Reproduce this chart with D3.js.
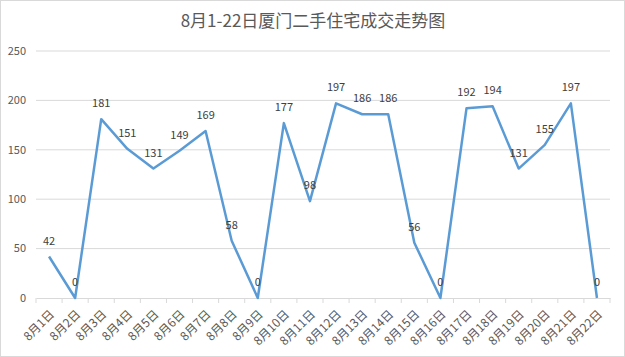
<!DOCTYPE html>
<html><head><meta charset="utf-8">
<script src="https://cdn.jsdelivr.net/npm/d3@7"></script>
<style>
html,body{margin:0;padding:0;background:#fff;}
svg{display:block;font-family:"Microsoft YaHei","Noto Sans CJK SC","DejaVu Sans",sans-serif;}
</style></head>
<body>
<svg id="chart" width="625" height="357"></svg>
<script>
const title = "8月1-22日厦门二手住宅成交走势图";
const categories = ["8月1日","8月2日","8月3日","8月4日","8月5日","8月6日","8月7日","8月8日","8月9日","8月10日","8月11日","8月12日","8月13日","8月14日","8月15日","8月16日","8月17日","8月18日","8月19日","8月20日","8月21日","8月22日"];
const values = [42,0,181,151,131,149,169,58,0,177,98,197,186,186,56,0,192,194,131,155,197,0];
const yTicks = [0,50,100,150,200,250];

const svg = d3.select("#chart");
const W = 625, H = 357;
const margin = {left:36, right:15, top:51, bottom:59};

svg.append("rect").attr("x",0.5).attr("y",0.5).attr("width",W-1).attr("height",H-1)
  .attr("fill","#fff").attr("stroke","#d9d9d9");

svg.append("text").attr("x",313).attr("y",27).attr("text-anchor","middle")
  .attr("font-size",17).attr("fill","#595959").text(title);

const x = d3.scaleBand().domain(categories).range([margin.left, W-margin.right]).padding(0);
const y = d3.scaleLinear().domain([0,250]).range([H-margin.bottom, margin.top]);

// gridlines
svg.append("g").selectAll("line").data(yTicks.filter(d=>d>0)).join("line")
  .attr("x1",margin.left).attr("x2",W-margin.right)
  .attr("y1",d=>y(d)).attr("y2",d=>y(d))
  .attr("stroke","#d9d9d9").attr("stroke-width",1);

// y axis labels
svg.append("g").selectAll("text").data(yTicks).join("text")
  .attr("x",26).attr("y",d=>y(d)).attr("dy","0.35em").attr("text-anchor","end")
  .attr("font-size",11).attr("fill","#595959").text(d=>d);

// x axis
const xAxis = d3.axisBottom(x).tickSize(5).tickSizeOuter(0).tickFormat("");
const gx = svg.append("g").attr("transform",`translate(0,${y(0)})`).call(xAxis);
gx.select(".domain").attr("stroke","#d9d9d9");
gx.selectAll(".tick line").remove();
const bounds = categories.map(c=>x(c)).concat([x(categories[categories.length-1])+x.bandwidth()]);
gx.selectAll(".bt").data(bounds).join("line").attr("class","bt")
  .attr("x1",d=>d).attr("x2",d=>d).attr("y1",0).attr("y2",5).attr("stroke","#d9d9d9");

svg.append("g").selectAll("text").data(categories).join("text")
  .attr("transform",d=>`translate(${x(d)+x.bandwidth()/2+6},${y(0)+17}) rotate(-45)`)
  .attr("text-anchor","end").attr("font-size",12).attr("fill","#595959").text(d=>d);

// line
const line = d3.line().x((d,i)=>x(categories[i])+x.bandwidth()/2).y(d=>y(d));
svg.append("path").datum(values).attr("d",line).attr("fill","none")
  .attr("stroke","#5B9BD5").attr("stroke-width",2.5).attr("stroke-linejoin","round");

// data labels
svg.append("g").selectAll("text").data(values).join("text")
  .attr("x",(d,i)=>x(categories[i])+x.bandwidth()/2).attr("y",d=>y(d)-12)
  .attr("text-anchor","middle").attr("font-size",11).attr("fill","#404040").text(d=>d);
</script>
</body></html>
